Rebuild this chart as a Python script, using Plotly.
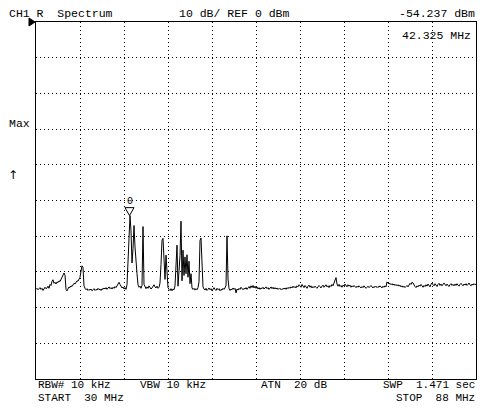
"""Spectrum analyzer screen: CH1 R spectrum, 30-88 MHz sweep."""

import numpy as np
import plotly.graph_objects as go


# ===== Sweep settings =====
START_MHZ = 30.0
STOP_MHZ = 88.0
REF_DBM = 0.0
DB_PER_DIV = 10.0
DIVISIONS = 10
MARKER_MHZ = 42.325
MARKER_DBM = -54.237

# ===== Trace, dBm, one reading per display column =====
level_dbm = [
    -74.9, -74.6, -75.0, -74.7, -74.4, -74.9, -74.6, -75.2, -74.8, -74.3, -74.7, -74.5, -74.0, -74.6, -73.5, -73.8, -72.6, -72.2, -73.2, -72.9,
    -73.4, -72.8, -73.0, -72.5, -72.7, -72.0, -71.5, -70.6, -70.3, -70.9, -74.9, -75.3, -74.6, -74.2, -74.4, -73.9, -74.1, -73.6, -73.2, -73.4,
    -72.9, -72.5, -72.6, -71.9, -71.5, -69.8, -68.3, -68.8, -73.9, -74.6, -75.0, -74.7, -75.2, -74.9, -75.1, -74.8, -75.3, -75.0, -74.7, -75.2,
    -74.9, -75.1, -74.6, -75.0, -74.8, -75.2, -74.7, -74.9, -74.5, -74.8, -74.4, -74.9, -74.6, -74.2, -74.7, -74.4, -74.8, -74.3, -74.6, -74.1,
    -74.4, -73.8, -73.2, -72.9, -73.5, -73.9, -74.5, -74.2, -74.8, -74.4, -74.9, -73.6, -67.0, -61.0, -54.24, -58.5, -67.5, -63.5, -57.0, -63.0,
    -68.2, -70.5, -73.6, -74.3, -74.0, -74.6, -73.8, -57.3, -73.5, -74.4, -74.7, -74.2, -74.6, -73.9, -74.3, -74.8, -74.5, -74.1, -73.6, -74.2,
    -74.5, -74.0, -74.6, -74.3, -73.1, -68.0, -61.1, -60.6, -67.2, -72.1, -65.3, -70.9, -74.4, -74.9, -75.2, -74.7, -75.3, -74.8, -75.0, -73.9,
    -68.6, -62.5, -74.0, -69.2, -65.5, -55.8, -72.5, -63.9, -71.0, -65.8, -70.5, -65.2, -71.5, -67.0, -73.3, -70.5, -74.5, -74.9, -74.6, -75.1,
    -74.7, -75.0, -74.4, -72.8, -61.2, -60.5, -67.5, -74.2, -74.8, -75.1, -74.6, -75.2, -74.9, -74.5, -75.0, -74.7, -75.3, -74.8, -74.4, -74.9,
    -75.2, -74.6, -75.0, -74.7, -75.3, -74.9, -75.1, -74.6, -74.9, -74.5, -73.8, -59.9, -72.0, -74.6, -75.2, -74.8, -75.0, -74.5, -74.9, -74.6,
    -75.9, -74.8, -75.1, -74.6, -74.9, -74.3, -74.7, -75.0, -74.6, -74.8, -74.4, -74.9, -74.5, -74.1, -74.6, -73.9, -74.4, -73.8, -74.5, -74.0,
    -74.6, -74.2, -74.8, -74.4, -74.9, -74.5, -74.7, -74.3, -74.8, -74.6, -74.2, -74.7, -74.4, -74.9, -74.5, -74.2, -74.7, -74.3, -74.8, -74.4,
    -74.8, -74.5, -74.9, -74.6, -74.9, -74.7, -75.0, -74.6, -74.8, -74.5, -74.9, -74.4, -74.7, -74.3, -74.6, -74.2, -74.5, -74.0, -74.4, -74.1,
    -74.5, -73.9, -74.2, -73.6, -73.9, -74.3, -73.5, -74.1, -74.4, -73.8, -74.2, -74.6, -74.0, -73.7, -74.3, -73.9, -74.5, -74.1, -74.4, -74.0,
    -74.3, -74.6, -74.2, -73.8, -74.1, -74.5, -74.0, -73.7, -74.3, -74.0, -73.6, -74.2, -73.9, -74.4, -73.8, -74.1, -73.5, -73.9, -73.2, -72.0,
    -71.6, -73.4, -74.0, -73.5, -74.1, -73.8, -74.3, -73.7, -74.0, -73.4, -73.8, -74.2, -73.6, -74.0, -73.7, -74.3, -73.9, -74.2, -73.8, -74.1,
    -74.4, -74.0, -74.3, -73.9, -74.2, -74.5, -74.1, -74.4, -73.9, -74.2, -74.6, -74.3, -74.0, -74.4, -74.1, -73.8, -74.2, -74.5, -74.1, -74.3,
    -74.0, -74.4, -74.1, -74.3, -73.9, -74.2, -74.5, -74.0, -74.3, -73.9, -74.2, -72.8, -73.1, -73.4, -73.2, -73.6, -73.3, -73.7, -73.4, -73.8,
    -73.5, -73.9, -73.6, -74.0, -73.7, -74.2, -73.9, -74.3, -74.0, -74.4, -74.1, -73.8, -74.2, -73.6, -73.2, -73.5, -72.9, -73.1, -73.7, -74.1,
    -74.4, -73.9, -74.2, -73.7, -74.0, -73.5, -73.9, -74.3, -73.8, -74.1, -73.6, -74.0, -73.4, -73.8, -74.2, -73.5, -73.1, -73.6, -73.9, -73.3,
    -73.7, -74.1, -73.5, -73.2, -73.8, -73.4, -73.9, -73.6, -73.1, -73.5, -73.9, -73.4, -73.7, -74.1, -73.6, -73.3, -73.8, -73.5, -73.9, -73.4,
    -73.8, -73.3, -73.7, -74.0, -73.5, -73.2, -73.6, -73.9, -73.4, -73.7, -73.3, -73.8, -73.5, -73.1, -73.6, -73.9, -73.4, -73.7, -73.3, -73.6, -73.4,
]

# sweep points are evenly spaced from START to STOP
freq_mhz = np.linspace(START_MHZ, STOP_MHZ, len(level_dbm))

# ===== Screen annotations: text, x px, y px, anchor, font size =====
screen_texts = [
    ("CH1 R  Spectrum", 7, 13.5, "left", 11.5),
    ("10 dB/ REF 0 dBm", 177, 13.5, "left", 11.5),
    ("-54.237 dBm", 477, 13.5, "right", 11.5),
    ("42.325 MHz", 473, 35.5, "right", 11.5),
    ("Max", 7, 123, "left", 11.5),
    ("RBW# 10 kHz", 36, 385, "left", 11),
    ("VBW 10 kHz", 138, 385, "left", 11),
    ("ATN  20 dB", 259, 385, "left", 11),
    ("SWP  1.471 sec", 477, 385, "right", 11),
    ("START  30 MHz", 36, 397.5, "left", 11),
    ("STOP  88 MHz", 477, 397.5, "right", 11),
]

# ===== Screen geometry =====
WIDTH, HEIGHT = 490, 410
LEFT, RIGHT, TOP, BOTTOM = 36, 476, 22, 379
FONT = "Liberation Mono"


def _to_paper(x: float, y: float) -> tuple[float, float]:
    """Converts page pixels to paper coordinates."""
    return (x - LEFT) / (RIGHT - LEFT), (BOTTOM - y) / (BOTTOM - TOP)


fig = go.Figure()

fig.add_trace(
    go.Scatter(
        x=freq_mhz,
        y=level_dbm,
        mode="lines",
        line={"color": "black", "width": 1},
        hoverinfo="skip",
        showlegend=False,
    )
)

annotations = []
for text, x, y, anchor, size in screen_texts:
    px_x, px_y = _to_paper(x, y)
    annotations.append(
        {
            "text": text.replace(" ", "\u00a0"),
            "x": px_x,
            "y": px_y,
            "xref": "paper",
            "yref": "paper",
            "xanchor": anchor,
            "yanchor": "middle",
            "showarrow": False,
            "font": {"family": FONT, "size": size, "color": "black"},
        }
    )

# up arrow under "Max"
arrow_x, arrow_y = _to_paper(6, 175)
annotations.append(
    {
        "text": "\u2191",
        "x": arrow_x,
        "y": arrow_y,
        "xref": "paper",
        "yref": "paper",
        "xanchor": "left",
        "yanchor": "middle",
        "showarrow": False,
        "font": {"family": "DejaVu Sans", "size": 12, "color": "black"},
    }
)

# marker number above the marker triangle
annotations.append(
    {
        "text": "0",
        "x": MARKER_MHZ,
        "y": MARKER_DBM,
        "xref": "x",
        "yref": "y",
        "yshift": 14,
        "showarrow": False,
        "font": {"family": FONT, "size": 10, "color": "black"},
    }
)

shapes = [
    # marker triangle pointing down at the peak
    {
        "type": "path",
        "xref": "x",
        "yref": "y",
        "xsizemode": "pixel",
        "ysizemode": "pixel",
        "xanchor": MARKER_MHZ,
        "yanchor": MARKER_DBM,
        "path": "M -4.5,8 L 4.5,8 L 0,0 Z",
        "line": {"color": "black", "width": 1},
    },
    # reference level pointer at the left of the top line
    {
        "type": "path",
        "xref": "paper",
        "yref": "paper",
        "xsizemode": "pixel",
        "ysizemode": "pixel",
        "xanchor": 0,
        "yanchor": 1,
        "path": "M -7,4 L -1,0 L -7,-4 Z",
        "fillcolor": "black",
        "line": {"color": "black", "width": 1},
    },
]

axis_style = {
    "showline": True,
    "mirror": True,
    "linecolor": "black",
    "linewidth": 1,
    "showgrid": True,
    "gridcolor": "black",
    "gridwidth": 1,
    "griddash": "1px,3px",
    "zeroline": False,
    "showticklabels": False,
    "ticks": "",
    "fixedrange": True,
}

fig.update_xaxes(
    range=[START_MHZ, STOP_MHZ],
    tick0=START_MHZ,
    dtick=(STOP_MHZ - START_MHZ) / DIVISIONS,
    **axis_style,
)
fig.update_yaxes(
    range=[REF_DBM - DB_PER_DIV * DIVISIONS, REF_DBM],
    tick0=REF_DBM,
    dtick=DB_PER_DIV,
    **axis_style,
)

fig.update_layout(
    width=WIDTH,
    height=HEIGHT,
    margin={"l": LEFT, "r": WIDTH - RIGHT, "t": TOP, "b": HEIGHT - BOTTOM, "autoexpand": False},
    paper_bgcolor="white",
    plot_bgcolor="white",
    annotations=annotations,
    shapes=shapes,
    showlegend=False,
)

# the page body has a default 8px margin; drop it so the screen sits at 0,0
fig.write_html(
    "out.html",
    config={"displayModeBar": False},
    post_script="document.body.style.margin = '0';",
)
